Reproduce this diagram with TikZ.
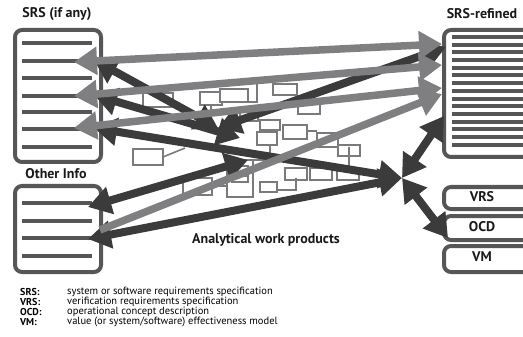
\documentclass[tikz,border=0pt]{standalone}
\usepackage{fontspec}
\setmainfont{PT Sans}
\usetikzlibrary{arrows.meta,positioning}

\definecolor{boxgray}{HTML}{565656}
\definecolor{darkarrow}{HTML}{3B3B3B}
\definecolor{lightarrow}{HTML}{7F7F82}
\definecolor{flowgray}{HTML}{7A7A7A}

\tikzset{
  docbox/.style={draw=boxgray,line width=4pt,rounded corners=7pt,inner sep=0pt,anchor=north west},
  docbar/.style={boxgray,line width=4pt},
  boxtitle/.style={font=\bfseries\fontsize{14}{16}\selectfont,text=black!90},
  smallbox/.style={docbox},
  flowbox/.style={draw=flowgray,line width=1.6pt,fill=white},
  flowline/.style={flowgray,line width=1.6pt},
  darkflow/.style={darkarrow,line width=8pt},
  lightflow/.style={lightarrow,line width=7.5pt},
  legend/.style={font=\fontsize{10.5}{11}\selectfont,anchor=west,inner sep=0pt},
  legendkey/.style={legend,font=\bfseries\fontsize{10}{11}\selectfont}
}

\begin{document}
\begin{tikzpicture}[x=1pt,y=-1pt,>={Triangle[length=23pt,width=27pt]}]
\useasboundingbox (0,0) rectangle (523,337);

% document boxes
\node[docbox,minimum width=86pt,minimum height=132pt] (srs) at (13,28) {};
\node[boxtitle] (srstitle) at (57,14) {SRS (if any)};
\foreach \y in {43,61,78,96,112,129,147}
  \draw[docbar] (22,\y) -- (92,\y);

\node[docbox,minimum width=86pt,minimum height=86pt] (other) at (13,184) {};
\node[boxtitle] (othertitle) at (56,174) {Other Info};
\foreach \y in {203,221,238,256}
  \draw[docbar] (22,\y) -- (92,\y);

\node[docbox,minimum width=90pt,minimum height=127pt] (refined) at (442,28) {};
\node[boxtitle] (refinedtitle) at (482,14) {SRS-refined};
\foreach \i in {0,...,14}
  \draw[docbar] (452,37+7.7*\i) -- (530,37+7.7*\i);

% right side products
\node[smallbox,minimum width=90pt,minimum height=22pt] (vrs) at (442,185) {};
\node[smallbox,minimum width=90pt,minimum height=24pt] (ocd) at (442,214) {};
\node[smallbox,minimum width=90pt,minimum height=26pt] (vm) at (442,244) {};
\node[boxtitle] (vrslabel) at (482,197) {VRS};
\node[boxtitle] (ocdlabel) at (482,227) {OCD};
\node[boxtitle] (vmlabel) at (482,257) {VM};

% analytical work products (small flow chart)
\foreach \x/\y/\w/\h in {
  143/93/30/14, 133/149/30/16, 200/92/22/13, 220/89/28/13, 273/84/24/11,
  257/132/20/13, 283/125/24/14, 317/133/21/14, 338/145/22/11,
  285/168/22/12, 310/168/22/12, 337/168/22/12, 260/182/17/10,
  183/178/29/17, 227/160/26/37, 232/166/16/6, 232/176/16/6,
  260/120/20/10, 298/104/22/10, 240/112/18/9}
  \draw[flowbox] (\x,\y) rectangle ++(\w,\h);
\draw[flowline] (163,157) -- (185,148);
\draw[flowline] (257,84) -- (257,102) -- (248,102);
\draw[flowline] (211,105) -- (211,118);
\draw[flowline] (270,145) -- (270,160) -- (253,160);
\draw[flowline] (307,131) -- (317,131);
\draw[flowline] (296,178) -- (296,190) -- (277,190);
\draw[flowline] (212,186) -- (227,186);
\draw[flowline] (349,147) -- (349,168);

% hubs and ends of the connectors
\coordinate (hubA) at (218,128);
\coordinate (hubA2) at (240,138);
\coordinate (hubA3) at (248,160);
\coordinate (hubB) at (402,178);
\coordinate (srs1) at (94,60);
\coordinate (srs2) at (94,95);
\coordinate (srs3) at (94,128);
\coordinate (oth1) at (88,207);
\coordinate (oth2) at (88,239);
\coordinate (ref1) at (446,47);
\coordinate (ref2) at (444,116);
\coordinate (prod) at (448,238);

% dark connectors
\draw[darkflow,<->] (srs1) -- (hubA);
\draw[darkflow,<->] (srs2) -- (hubA2);
\draw[darkflow,<->] (srs3) -- (hubB);
\draw[darkflow,<->] (ref1) -- (hubA);
\draw[darkflow,<->] (oth1) -- (hubA3);
\draw[darkflow,<->] (oth2) -- (hubB);
\draw[darkflow,<->] (hubB) -- (prod);
\draw[darkflow,<->] (hubB) -- (ref2);

% light connectors
\coordinate (l1) at (74,62);
\coordinate (l2) at (74,96);
\coordinate (l3) at (74,128);
\coordinate (l4) at (100,230);
\coordinate (r1) at (442,44);
\coordinate (r2) at (442,65);
\coordinate (r3) at (442,88);
\coordinate (r4) at (442,94);
\draw[lightflow,<->] (l1) -- (r1);
\draw[lightflow,<->] (l2) -- (r2);
\draw[lightflow,<->] (l3) -- (r3);
\draw[lightflow,->] (l4) -- (r4);

\node[boxtitle] (analytical) at (266,240) {Analytical work products};

% legend
\node[legendkey] (k1) at (20,292) {SRS:};
\node[legendkey] (k2) at (20,302) {VRS:};
\node[legendkey] (k3) at (20,312) {OCD:};
\node[legendkey] (k4) at (20,322) {VM:};
\node[legend] (d1) at (67,292) {system or software requirements specification};
\node[legend] (d2) at (67,302) {verification requirements specification};
\node[legend] (d3) at (67,312) {operational concept description};
\node[legend] (d4) at (67,322) {value (or system/software) effectiveness model};
\end{tikzpicture}
\end{document}
